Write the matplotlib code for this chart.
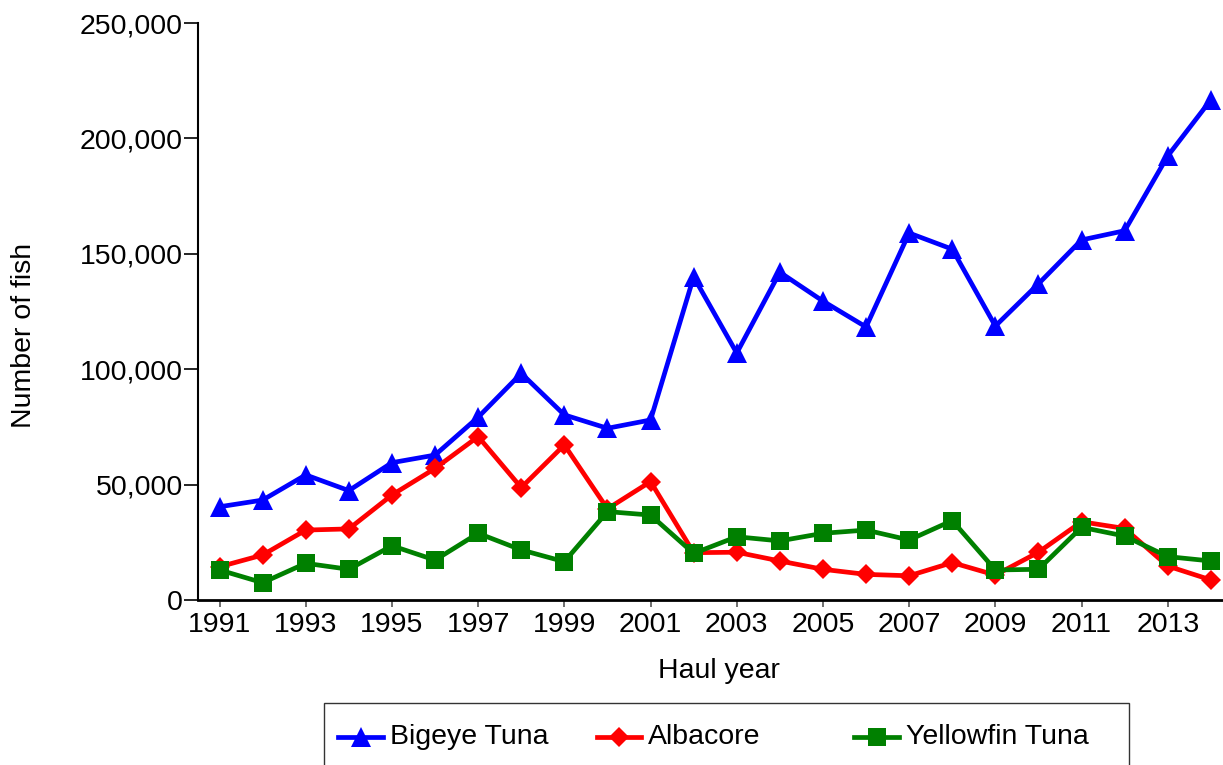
import matplotlib
matplotlib.use("Agg")
import matplotlib.pyplot as plt
from matplotlib.lines import Line2D
from matplotlib.patches import Rectangle
from matplotlib.ticker import FuncFormatter

plt.rcParams['font.family'] = ['Liberation Sans', 'DejaVu Sans']

years = list(range(1991, 2015))
bigeye = [40400, 43300, 54200, 47400, 59500, 62800, 79200, 98200, 80200, 74400, 78000,
          140000, 107000, 142000, 129500, 118300, 159000, 152000, 118700, 137000,
          156000, 160000, 192400, 216700]
albacore = [14400, 19500, 30300, 30800, 45500, 57000, 70800, 48700, 67200, 39500, 51300,
            20500, 20700, 16900, 13300, 11100, 10500, 16200, 10800, 20700,
            33900, 31000, 14700, 8700]
yellowfin = [13000, 7500, 15900, 13300, 23500, 17300, 28900, 21700, 16600, 38300, 36800,
             20200, 27400, 25600, 28900, 30300, 26000, 34400, 13000, 13300,
             31500, 27700, 18800, 16900]

series_names = ['Bigeye Tuna', 'Albacore', 'Yellowfin Tuna']
series_vals = [bigeye, albacore, yellowfin]
colors = ['#0000ff', '#ff0000', '#008000']
markers = ['^', 'D', 's']
msizes = [14.5, 10.5, 13]
lw = 3.4

fs = 20.5

fig = plt.figure(figsize=(12.23, 7.65), dpi=100)
ax = fig.add_axes([198/1223, 165/765, 1025/1223, 577/765])

for vals, c, m, ms in zip(series_vals, colors, markers, msizes):
    ax.plot(years, vals, color=c, marker=m, markersize=ms, linewidth=lw,
            markeredgewidth=0, clip_on=False)

ax.set_xlim(1990.5, 1990.5 + 1025/43.1)
ax.set_ylim(0, 250000)
ax.set_xticks(years[::2])
ax.set_yticks(range(0, 250001, 50000))
ax.yaxis.set_major_formatter(FuncFormatter(lambda v, p: f'{int(v):,}'))

for s in ['top', 'right']:
    ax.spines[s].set_visible(False)
ax.spines['left'].set_linewidth(1.5)
ax.spines['bottom'].set_linewidth(2)
ax.tick_params(axis='y', length=10, width=1.2, pad=1, labelsize=fs)
ax.tick_params(axis='x', length=5, width=1.2, color='#555555', pad=4, labelsize=fs)

ax.set_xlabel('Haul year', fontsize=fs)
ax.set_ylabel('Number of fish', fontsize=fs)
ax.xaxis.set_label_coords((719-198)/1025, (600-658)/577)
ax.yaxis.set_label_coords((37-198)/1025, (600-335)/577)

# legend box along the bottom, cut by the figure edge
fig.patches.append(Rectangle((324/1223, -0.02), (1129-324)/1223, 0.02 + 62/765,
                             transform=fig.transFigure, fill=False,
                             edgecolor='#333333', linewidth=1))
leg_y = 28/765
handle_x = [(338, 383), (597, 641), (854, 899)]
for (x0, x1), name, c, m, ms in zip(handle_x, series_names, colors, markers, msizes):
    fig.lines.append(Line2D([x0/1223, x1/1223], [leg_y, leg_y], transform=fig.transFigure,
                            color=c, linewidth=lw))
    fig.lines.append(Line2D([(x0+x1)/2/1223], [leg_y], transform=fig.transFigure,
                            color=c, marker=m, markersize=ms, markeredgewidth=0))
    fig.text((x1+7)/1223, leg_y, name, fontsize=fs, va='center', ha='left')

fig.savefig('out.png', dpi=100)
